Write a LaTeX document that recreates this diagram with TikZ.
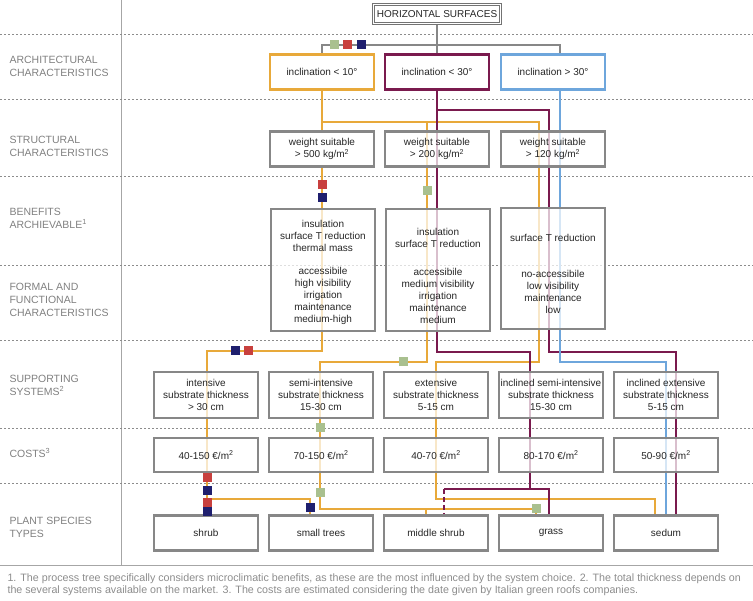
\documentclass[tikz,border=0pt]{standalone}
\usepackage{fontspec}
\setmainfont{Liberation Sans}
\begin{document}
\begin{tikzpicture}[x=1pt,y=-1pt,
  every node/.style={font=\fontsize{10}{12.2}\selectfont, text=black!85},
  box/.style={draw=black!47, line width=2.5pt, fill=white, fill opacity=0.72, text opacity=1, align=center, inner sep=0pt, minimum width=102pt},
  ln/.style={line width=2.6pt},
  org/.style={ln, draw={rgb,255:red,232;green,169;blue,58}},
  pur/.style={ln, draw={rgb,255:red,122;green,26;blue,78}},
  blu/.style={ln, draw={rgb,255:red,110;green,166;blue,220}},
  gry/.style={ln, draw=black!47},
  sq/.style={minimum size=9pt, inner sep=0pt},
  sg/.style={sq, fill={rgb,255:red,169;green,192;blue,143}},
  sr/.style={sq, fill={rgb,255:red,200;green,64;blue,62}},
  sn/.style={sq, fill={rgb,255:red,31;green,31;blue,110}},
  lab/.style={anchor=north west, align=left, text=black!50, font=\fontsize{10.5}{13}\selectfont},
  dashln/.style={draw=black!45, dash pattern=on 2pt off 2pt, line width=0.8pt}
]
\useasboundingbox (0,0) rectangle (753,601);
% frame lines
\draw[draw=black!35, line width=0.8pt] (121,0) -- (121,565);
\draw[draw=black!35, line width=0.8pt] (0,565) -- (753,565);
\foreach \y in {34,99,176,265,340,428,483} \draw[dashln] (0,\y) -- (753,\y);
% left labels
\node[lab] (l1) at (6,53) {ARCHITECTURAL\\CHARACTERISTICS};
\node[lab] (l2) at (6,133) {STRUCTURAL\\CHARACTERISTICS};
\node[lab] (l3) at (6,205) {BENEFITS\\ARCHIEVABLE\textsuperscript{1}};
\node[lab] (l4) at (6,280) {FORMAL AND\\FUNCTIONAL\\CHARACTERISTICS};
\node[lab] (l5) at (6,372) {SUPPORTING\\SYSTEMS\textsuperscript{2}};
\node[lab] (l6) at (6,445) {COSTS\textsuperscript{3}};
\node[lab] (l7) at (6,514) {PLANT SPECIES\\TYPES};
% gray
\draw[gry] (437,22) -- (437,55);
\draw[gry] (322,55) -- (322,45) -- (560,45) -- (560,55);
% orange
\draw[org] (322,90) -- (322,132);
\draw[org] (322,122) -- (539,122) -- (539,362) -- (436,362) -- (436,499) -- (655,499) -- (655,515);
\draw[org] (427,122) -- (427,362) -- (320,362) -- (320,509) -- (536,509) -- (536,515);
\draw[org] (426,509) -- (426,515);
\draw[org] (322,167) -- (322,351) -- (207,351) -- (207,515);
\draw[org] (207,499) -- (310,499) -- (310,515);
% purple
\draw[pur] (437,90) -- (437,352) -- (530,352) -- (530,489);
\draw[pur] (437,110) -- (549,110) -- (549,352) -- (676,352) -- (676,515);
\draw[pur] (444,489) -- (549,489) -- (549,515);
\draw[pur, dash pattern=on 5pt off 3pt] (444,489) -- (444,515);
% blue
\draw[blu] (560,90) -- (560,362) -- (666,362) -- (666,515);
% boxes
\node[box, minimum width=127pt, minimum height=19pt, double, double distance=1.2pt, line width=0.8pt, draw=black!55] (hsb) at (437,14) {HORIZONTAL SURFACES};
\node[box, draw={rgb,255:red,232;green,169;blue,58}, minimum width=104pt, minimum height=35pt] (i1) at (322,72) {inclination < 10°};
\node[box, draw={rgb,255:red,122;green,26;blue,78}, minimum width=104pt, minimum height=35pt] (i2) at (437,72) {inclination < 30°};
\node[box, draw={rgb,255:red,110;green,166;blue,220}, minimum width=104pt, minimum height=35pt] (i3) at (553,72) {inclination > 30°};
\node[box, minimum width=104pt, minimum height=35pt] (w1) at (322,149) {weight suitable\\> 500 kg/m\textsuperscript{2}};
\node[box, minimum width=104pt, minimum height=35pt] (w2) at (437,149) {weight suitable\\> 200 kg/m\textsuperscript{2}};
\node[box, minimum width=104pt, minimum height=35pt] (w3) at (553,149) {weight suitable\\> 120 kg/m\textsuperscript{2}};
\node[box, minimum width=104pt, minimum height=122pt] (b1) at (323,270) {};
\node[box, minimum width=104pt, minimum height=122pt] (b2) at (438,270) {};
\node[box, minimum width=104pt, minimum height=121pt] (b3) at (553,268.5) {};
\node (t1a) at (323,236) [align=center] {insulation\\surface T reduction\\thermal mass};
\node (t1b) at (323,296) [align=center] {accessibile\\high visibility\\irrigation\\maintenance\\medium-high};
\node (t2a) at (438,238) [align=center] {insulation\\surface T reduction};
\node (t2b) at (438,296) [align=center] {accessibile\\medium visibility\\irrigation\\maintenance\\medium};
\node (t3a) at (553,238) [align=center] {surface T reduction};
\node (t3b) at (553,292) [align=center] {no-accessibile\\low visibility\\maintenance\\low};
\foreach \n/\x/\t in {s1/206/{intensive\\substrate thickness\\> 30 cm}, s2/321/{semi-intensive\\substrate thickness\\15-30 cm}, s3/436/{extensive\\substrate thickness\\5-15 cm}, s4/551/{inclined semi-intensive\\substrate thickness\\15-30 cm}, s5/666/{inclined extensive\\substrate thickness\\5-15 cm}}
  \node[box, minimum width=104pt, minimum height=46pt] (\n) at (\x,395) {\t};
\foreach \n/\x/\t in {c1/206/{40-150 €/m\textsuperscript{2}}, c2/321/{70-150 €/m\textsuperscript{2}}, c3/436/{40-70 €/m\textsuperscript{2}}, c4/551/{80-170 €/m\textsuperscript{2}}, c5/666/{50-90 €/m\textsuperscript{2}}}
  \node[box, minimum width=104pt, minimum height=34pt] (\n) at (\x,455) {\t};
\foreach \n/\x/\t in {p1/206/shrub, p2/321/small trees, p3/436/middle shrub, p4/551/grass, p5/666/sedum}
  \node[box, minimum width=104pt, minimum height=35pt] (\n) at (\x,533) {\t};
% squares
\node[sg] (q1) at (334,45) {};
\node[sr] (q2) at (347,45) {};
\node[sn] (q3) at (361,45) {};
\node[sr] (q4) at (322,185) {};
\node[sn] (q5) at (322,198) {};
\node[sg] (q6) at (427,191) {};
\node[sn] (q7) at (235,351) {};
\node[sr] (q8) at (248,351) {};
\node[sg] (q9) at (403,362) {};
\node[sg] (q10) at (320,428) {};
\node[sr] (q11) at (207,478) {};
\node[sn] (q12) at (207,491) {};
\node[sg] (q13) at (320,493) {};
\node[sr] (q14) at (207,503) {};
\node[sn] (q15) at (207,512) {};
\node[sn] (q16) at (310,508) {};
\node[sg] (q17) at (536,509) {};
% footnote
\node[anchor=north west, align=left, text=black!45, font=\fontsize{10.7}{12.5}\selectfont] (fn) at (4,570) {1. The process tree specifically considers microclimatic benefits, as these are the most influenced by the system choice. 2. The total thickness depends on\\the several systems available on the market. 3. The costs are estimated considering the date given by Italian green roofs companies.};
\end{tikzpicture}
\end{document}
